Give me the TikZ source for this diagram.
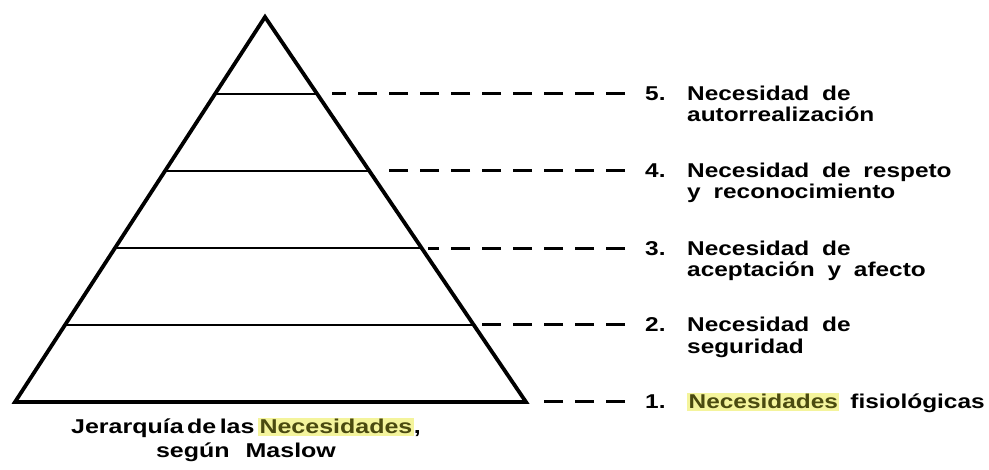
\documentclass[tikz,border=0pt]{standalone}
\usepackage{fontspec}
\setmainfont{Liberation Sans}[FakeStretch=1.25,WordSpace=0.5]
\newfontfamily\itemfont{Liberation Sans}[FakeStretch=1.22,WordSpace=1.9]
\usepackage{xcolor}
\usepackage{tikz}
\usetikzlibrary{calc,positioning}

\definecolor{hlfill}{HTML}{F4F49C}
\definecolor{hltext}{HTML}{4A4A10}
\newcommand{\hlword}[1]{{\setlength{\fboxsep}{1.5pt}\colorbox{hlfill}{\color{hltext}#1}}}
\newcommand{\needitem}[2]{\makebox[42pt][l]{#1}\begin{tabular}[t]{@{}l@{}}#2\end{tabular}}

\begin{document}
\begin{tikzpicture}[
    x=1pt, y=-1pt,
    pyramid/.style={line width=3.8pt, line join=miter},
    rung/.style={line width=2.5pt},
    leader/.style={line width=3pt, dash pattern=on 19pt off 12pt},
    item/.style={anchor=base west, inner sep=0pt, font=\itemfont\bfseries\fontsize{20}{21}\selectfont},
    caption/.style={anchor=base, inner sep=0pt, font=\bfseries\fontsize{20}{24}\selectfont}
]
\useasboundingbox (0,0) rectangle (989,470);

% pyramid
\coordinate (apex) at (265,17);
\coordinate (bl) at (15,402);
\coordinate (br) at (526,402);
\draw[pyramid] (apex) -- (bl) -- (br) -- cycle;

% levels
\foreach \t/\n in {0.2/5, 0.4/4, 0.6/3, 0.8/2} {
    \coordinate (l\n) at ($(apex)!\t!(bl)$);
    \coordinate (r\n) at ($(apex)!\t!(br)$);
    \draw[rung] (l\n) -- (r\n);
}
\coordinate (r1) at (br);

% dashed leaders, drawn from the label side
\coordinate (tip) at (625,0);
\coordinate (numcol) at (645,0);
\foreach \n/\gap in {5/15, 4/16, 3/6, 2/8, 1/14} {
    \coordinate (s\n) at ($(r\n)+(\gap,0)$);
    \draw[leader] (r\n -| tip) -- (s\n);
}

% labels
\node[item] (need5) at ($(r5 -| numcol)+(0,7)$) {\needitem{5.}{Necesidad de\\autorrealización}};
\node[item] (need4) at ($(r4 -| numcol)+(0,7)$) {\needitem{4.}{Necesidad de respeto\\y reconocimiento}};
\node[item] (need3) at ($(r3 -| numcol)+(0,7)$) {\needitem{3.}{Necesidad de\\aceptación y afecto}};
\node[item] (need2) at ($(r2 -| numcol)+(0,7)$) {\needitem{2.}{Necesidad de\\seguridad}};
\node[item] (need1) at ($(r1 -| numcol)+(0,7)$) {\needitem{1.}{\hlword{Necesidades}\hspace{11pt}fisiológicas}};

\node[caption] (title) at (246,434) {\begin{tabular}[t]{@{}c@{}}Jerarquía de las \hlword{Necesidades},\\según\hspace{16pt}Maslow\end{tabular}};
\end{tikzpicture}
\end{document}
